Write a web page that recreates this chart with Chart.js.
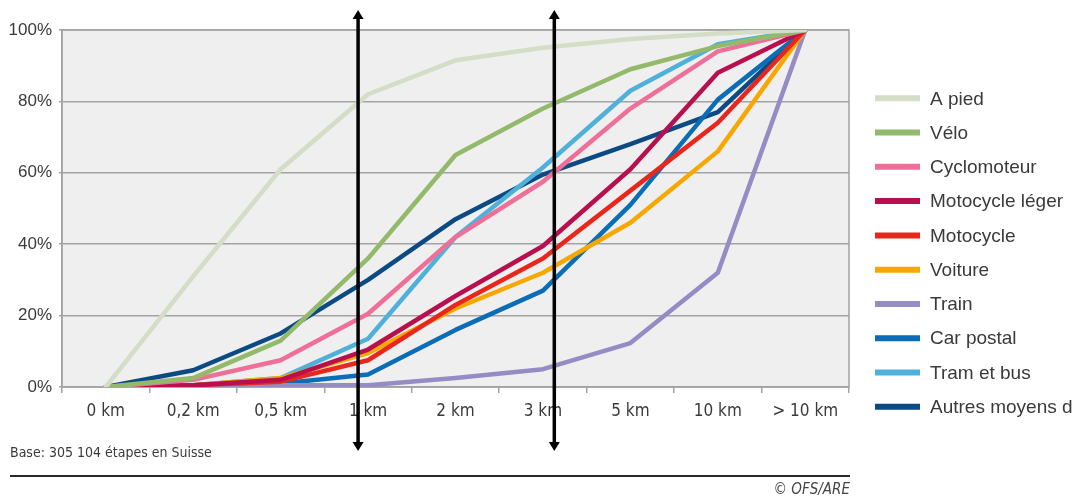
<!DOCTYPE html>
<html>
<head>
<meta charset="utf-8">
<script src="https://cdn.jsdelivr.net/npm/chart.js@4.4.1/dist/chart.umd.min.js"></script>
<style>
  html, body { margin: 0; padding: 0; background: #fff; }
  #wrap { width: 1072px; height: 498px; position: relative; }
</style>
</head>
<body>
<div id="wrap"><canvas id="distChart"></canvas></div>
<script>
// Chart data (cumulative share of trips, %)
const categories = ["0 km", "0,2 km", "0,5 km", "1 km", "2 km", "3 km", "5 km", "10 km", "> 10 km"];
const yTickLabels = ["0%", "20%", "40%", "60%", "80%", "100%"];

const aPied = [0, 31, 61, 82, 91.5, 95, 97.5, 99, 100];
const velo = [0, 2.5, 13, 36, 65, 78, 89, 95.5, 100];
const cyclomoteur = [0, 2, 7.5, 20.5, 42, 57.5, 78, 94, 100];
const motocycleLeger = [0, 0.5, 2, 10.5, 25.5, 39.5, 61, 88, 100];
const motocycle = [0, 0.5, 1.5, 7.5, 23, 36, 55, 74, 100];
const voiture = [0, 0.5, 2.5, 9.5, 22, 32, 46, 66, 100];
const train = [0, 0, 0.5, 0.5, 2.5, 5, 12.3, 32, 100];
const carPostal = [0, 0.5, 1, 3.5, 16, 27, 51, 80.5, 100];
const tramBus = [0, 0.5, 2.5, 13.5, 42, 61.5, 83, 96, 100];
const autres = [0, 4.7, 15, 30, 47, 59.5, 68, 77, 100];

// Series names and colours
const seriesNames = ["A pied", "Vélo", "Cyclomoteur", "Motocycle léger", "Motocycle", "Voiture", "Train", "Car postal", "Tram et bus", "Autres moyens de transport"];
const seriesValues = [aPied, velo, cyclomoteur, motocycleLeger, motocycle, voiture, train, carPostal, tramBus, autres];
const seriesColors = ["#d4ddc6", "#93ba6b", "#ee6f97", "#b80f4f", "#e8261c", "#f7a800", "#958cc6", "#0b6db5", "#4fb1da", "#0c4a84"];

// Annotation arrows (category index positions)
const arrowPositions = [2.886, 5.13];

const textColor = "#3a3a3a";
const gridColor = "#a3a3a3";
const narrowFont = "'Liberation Sans Narrow', 'DejaVu Sans Condensed', sans-serif";
const normalFont = "'Liberation Sans', Arial, sans-serif";

const datasets = seriesNames.map((name, i) => ({
  label: name,
  data: seriesValues[i],
  borderColor: seriesColors[i],
  backgroundColor: seriesColors[i],
  borderWidth: 4.5,
  pointRadius: 0,
  tension: 0,
  borderJoinStyle: "round",
  borderCapStyle: "round",
  fill: false,
}));

// Plot background and frame
const backgroundPlugin = {
  id: "plotBackground",
  beforeDraw(chart) {
    const { ctx, chartArea } = chart;
    ctx.save();
    ctx.fillStyle = "#fff";
    ctx.fillRect(0, 0, chart.width, chart.height);
    ctx.fillStyle = "#efefef";
    ctx.fillRect(chartArea.left, chartArea.top, chartArea.right - chartArea.left, chartArea.bottom - chartArea.top);
    ctx.restore();
  },
  beforeDatasetsDraw(chart) {
    const { ctx, chartArea } = chart;
    ctx.save();
    ctx.strokeStyle = gridColor;
    ctx.lineWidth = 1.5;
    ctx.strokeRect(chartArea.left, chartArea.top, chartArea.right - chartArea.left, chartArea.bottom - chartArea.top);
    ctx.restore();
  },
};

// Legend, footer and arrows
const extrasPlugin = {
  id: "extras",
  afterDraw(chart) {
    const { ctx, chartArea } = chart;
    const xScale = chart.scales.x;
    ctx.save();

    // legend on the right
    ctx.font = "19px " + normalFont;
    ctx.textBaseline = "middle";
    ctx.textAlign = "left";
    seriesNames.forEach((name, i) => {
      const y = 98.3 + i * 34.27;
      ctx.strokeStyle = seriesColors[i];
      ctx.lineWidth = 6;
      ctx.beginPath();
      ctx.moveTo(875, y);
      ctx.lineTo(920, y);
      ctx.stroke();
      ctx.fillStyle = textColor;
      ctx.fillText(name, 930, y + 1);
    });

    // source note
    ctx.fillStyle = textColor;
    ctx.font = "14px " + narrowFont;
    ctx.fillText("Base: 305 104 étapes en Suisse", 10, 453);

    ctx.strokeStyle = "#2a2a2a";
    ctx.lineWidth = 2;
    ctx.beginPath();
    ctx.moveTo(10, 476);
    ctx.lineTo(chartArea.right + 1, 476);
    ctx.stroke();

    ctx.fillStyle = "#444";
    ctx.font = "italic 15px " + narrowFont;
    ctx.textAlign = "right";
    ctx.fillText("© OFS/ARE", chartArea.right + 1, 490);

    // double-headed arrows
    arrowPositions.forEach((pos) => {
      const x = xScale.getPixelForValue(pos);
      const top = 10;
      const bottom = 451;
      const headLen = 9;
      const headHalf = 5.5;
      ctx.strokeStyle = "#000";
      ctx.fillStyle = "#000";
      ctx.lineWidth = 3.5;
      ctx.beginPath();
      ctx.moveTo(x, top + headLen - 1);
      ctx.lineTo(x, bottom - headLen + 1);
      ctx.stroke();
      ctx.beginPath();
      ctx.moveTo(x, top);
      ctx.lineTo(x - headHalf, top + headLen);
      ctx.lineTo(x + headHalf, top + headLen);
      ctx.closePath();
      ctx.fill();
      ctx.beginPath();
      ctx.moveTo(x, bottom);
      ctx.lineTo(x - headHalf, bottom - headLen);
      ctx.lineTo(x + headHalf, bottom - headLen);
      ctx.closePath();
      ctx.fill();
    });

    ctx.restore();
  },
};

const ctx = document.getElementById("distChart").getContext("2d");
new Chart(ctx, {
  type: "line",
  data: {
    labels: categories,
    datasets: datasets,
  },
  options: {
    responsive: true,
    maintainAspectRatio: false,
    animation: false,
    layout: {
      padding: { left: 0, right: 223, top: 30, bottom: 0 },
    },
    plugins: {
      legend: { display: false },
      tooltip: { enabled: false },
    },
    scales: {
      x: {
        offset: true,
        afterFit: (scale) => { scale.height = 111; },
        grid: {
          offset: true,
          drawOnChartArea: false,
          drawTicks: true,
          tickLength: 6,
          color: gridColor,
          lineWidth: 1.5,
        },
        border: { color: gridColor, width: 1.5 },
        ticks: {
          color: textColor,
          font: { family: narrowFont, size: 17 },
          padding: 8,
          maxRotation: 0,
          autoSkip: false,
        },
      },
      y: {
        min: 0,
        max: 100,
        afterFit: (scale) => { scale.width = 62; },
        grid: {
          color: gridColor,
          lineWidth: 1.5,
          drawTicks: true,
          tickLength: 3,
        },
        border: { color: gridColor, width: 1.5 },
        ticks: {
          stepSize: 20,
          color: textColor,
          font: { family: normalFont, size: 17 },
          padding: 7,
          callback: (value) => yTickLabels[value / 20],
        },
      },
    },
  },
  plugins: [backgroundPlugin, extrasPlugin],
});
</script>
</body>
</html>
